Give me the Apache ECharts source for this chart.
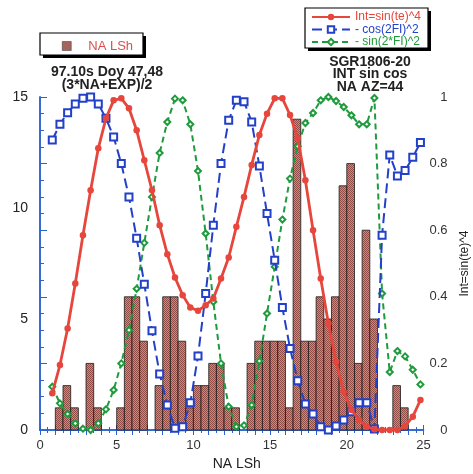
<!DOCTYPE html>
<html>
<head>
<meta charset="utf-8">
<script src="https://cdn.jsdelivr.net/npm/echarts@6/dist/echarts.min.js"></script>
<style>
html,body{margin:0;padding:0;background:#fff;}
#c{width:473px;height:474px;}
</style>
</head>
<body>
<div id="c"></div>
<script>
// ---------- data ----------
// histogram bins (start of each 0.5 h bin) and counts
const binStart = [1.0,1.5,2.0,2.5,3.0,3.5,4.0,4.5,5.0,5.5,6.0,6.5,7.0,7.5,8.0,8.5,9.0,9.5,10.0,10.5,11.0,11.5,12.0,12.5,13.0,13.5,14.0,14.5,15.0,15.5,16.0,16.5,17.0,17.5,18.0,18.5,19.0,19.5,20.0,20.5,21.0,21.5,22.0,22.5,23.0,23.5];
const counts   = [1,  2,  1,  0,  3,  1,  0,  0,  1,  6,  6,  4,  0,  2,  6,  6,  4,  1,  2,  2,  3,  3,  1,  1,  0,  3,  4,  4,  4,  4,  1,  14, 4,  4,  6,  5,  6,  11, 12, 3,  9,  5,  0,  0,  2,  1];
const binWidth = 0.5;

// sampled curves (right axis)
const sampleX = [0.8,1.3,1.8,2.3,2.8,3.3,3.8,4.3,4.8,5.3,5.8,6.3,6.8,7.3,7.8,8.3,8.8,9.3,9.8,10.3,10.8,11.3,11.8,12.3,12.8,13.3,13.8,14.3,14.8,15.3,15.8,16.3,16.8,17.3,17.8,18.3,18.8,19.3,19.8,20.3,20.8,21.3,21.8,22.3,22.8,23.3,23.8,24.3,24.8];
const intSin4 = [0.11,0.195,0.305,0.44,0.585,0.72,0.846,0.936,0.99,0.996,0.966,0.90,0.81,0.72,0.615,0.528,0.458,0.405,0.368,0.358,0.375,0.395,0.455,0.518,0.61,0.70,0.796,0.886,0.95,0.996,0.996,0.946,0.876,0.75,0.60,0.455,0.32,0.205,0.115,0.06,0.03,0.01,0.002,0.0,0.0,0.0,0.012,0.04,0.09];
const cos2FI  = [0.871,0.918,0.953,0.979,0.996,1.0,0.979,0.936,0.88,0.80,0.70,0.576,0.438,0.298,0.168,0.075,0.005,0.01,0.082,0.222,0.41,0.615,0.80,0.93,0.99,0.986,0.925,0.793,0.65,0.51,0.368,0.245,0.148,0.078,0.048,0.01,0.0,0.012,0.03,0.055,0.082,0.082,0.003,0.585,0.826,0.763,0.779,0.819,0.863];
const sin2FI  = [0.13,0.08,0.048,0.02,0.004,0.0,0.02,0.062,0.12,0.2,0.30,0.424,0.562,0.70,0.832,0.925,0.995,0.99,0.918,0.778,0.59,0.385,0.20,0.07,0.01,0.014,0.075,0.207,0.35,0.49,0.632,0.755,0.852,0.922,0.952,0.99,1.0,0.988,0.97,0.945,0.918,0.918,0.997,0.41,0.174,0.237,0.221,0.181,0.137];

const xTickLabels = [0,5,10,15,20,25];
const leftTickLabels = [0,5,10,15];
const rightTickLabels = [0,0.2,0.4,0.6,0.8,1];

// ---------- styling ----------
const AX = '#2a62cf';
const FONT = 'Liberation Sans, Arial, Helvetica, sans-serif';
const RED = '#e6463c', BLUE = '#2340c8', GREEN = '#1f9a3c';

const pc = document.createElement('canvas');
pc.width = 2; pc.height = 2;
const g = pc.getContext('2d');
g.fillStyle = '#c48e84'; g.fillRect(0,0,2,2);
g.fillStyle = '#904c44'; g.fillRect(0,0,1,1); g.fillRect(1,1,1,1);
const barPattern = {image: pc, repeat: 'repeat'};

const barData = [];
binStart.forEach((s,i)=>{ if (counts[i] > 0) barData.push([s, s+binWidth, counts[i]]); });

const chart = echarts.init(document.getElementById('c'), null, {renderer:'canvas'});

function boxWithShadow(x,y,w,h){
  return [
    {type:'rect', shape:{x:x+3,y:y+3,width:w,height:h}, style:{fill:'#000'}, z:1},
    {type:'rect', shape:{x:x,y:y,width:w,height:h}, style:{fill:'#fff', stroke:'#000', lineWidth:1.2}, z:2}
  ];
}

const option = {
  animation: false,
  backgroundColor: '#fff',
  textStyle: {fontFamily: FONT},
  grid: {left: 40, right: 49.5, top: 97, bottom: 44, containLabel: false, outerBoundsMode: 'none'},
  xAxis: [
    {type:'value', min:0, max:25, interval:1, position:'bottom',
     name:'NA LSh', nameLocation:'middle', nameGap:15,
     nameTextStyle:{fontSize:14, color:'#222', fontFamily:FONT, padding:[0,0,0,10]},
     axisLine:{show:true, lineStyle:{color:AX, width:1.5}},
     axisTick:{show:true, inside:true, length:5, lineStyle:{color:AX}},
     minorTick:{show:true, splitNumber:2, length:3, lineStyle:{color:AX}},
     axisLabel:{margin:9, fontSize:13, color:'#333', fontFamily:FONT,
       formatter: v => xTickLabels.indexOf(v) >= 0 ? String(v) : ''},
     splitLine:{show:false}},
    {type:'value', min:0, max:25, interval:1, position:'top',
     axisLine:{show:true, lineStyle:{color:AX, width:1.5}},
     axisTick:{show:true, inside:true, length:5, lineStyle:{color:AX}},
     minorTick:{show:true, splitNumber:2, length:3, lineStyle:{color:AX}},
     axisLabel:{show:false}, splitLine:{show:false}}
  ],
  yAxis: [
    {type:'value', min:0, max:15, interval:5, position:'left',
     name:'Count / 0.5 h', nameLocation:'middle', nameGap:18, nameRotate:90,
     nameTextStyle:{fontSize:12, color:'#222', fontFamily:FONT},
     axisLine:{show:true, lineStyle:{color:AX, width:1.5}},
     axisTick:{show:false},
     axisLabel:{margin:12, fontSize:14, color:'#222', fontFamily:FONT,
       formatter: v => leftTickLabels.indexOf(v) >= 0 ? String(v) : ''},
     splitLine:{show:false}},
    {type:'value', min:0, max:1, interval:0.2, position:'right',
     name:'Int=sin(te)^4', nameLocation:'middle', nameGap:27, nameRotate:90,
     nameTextStyle:{fontSize:12, color:'#222', fontFamily:FONT},
     axisLine:{show:true, lineStyle:{color:AX, width:1.5}},
     axisTick:{show:true, inside:false, length:7, lineStyle:{color:AX}},
     minorTick:{show:true, splitNumber:4, length:4, lineStyle:{color:AX}},
     axisLabel:{margin:24, align:'right', fontSize:13, color:'#333', fontFamily:FONT,
       formatter: v => { const r = rightTickLabels.find(t => Math.abs(t - v) < 1e-6); return r === undefined ? '' : String(r); }},
     splitLine:{show:false}},
    {type:'value', min:0, max:1, interval:0.2, position:'left',
     axisLine:{show:false},
     axisTick:{show:true, inside:true, length:7, lineStyle:{color:AX}},
     minorTick:{show:true, splitNumber:4, length:4, lineStyle:{color:AX}},
     axisLabel:{show:false}, splitLine:{show:false}}
  ],
  legend: [
    {data:[{name:'NA LSh', icon:'rect', itemStyle:{color:'#a5655d', borderColor:'#333', borderWidth:0.5}}],
     left: 62, top: 39.5, padding: 0, itemWidth: 9, itemHeight: 9, selectedMode:false,
     textStyle:{color:'#d9504c', fontSize:13, fontFamily:FONT, padding:[0,0,0,12]}},
    {data:[
       {name:'Int=sin(te)^4', textStyle:{color:RED}},
       {name:'- cos(2FI)^2', textStyle:{color:BLUE}},
       {name:'- sin(2*FI)^2', textStyle:{color:GREEN}}],
     orient:'vertical', left: 311, top: 11, padding: 0, itemWidth: 38, itemHeight: 8, itemGap: 0.5,
     selectedMode:false,
     textStyle:{fontSize:12, lineHeight:12, fontFamily:FONT, padding:[0,0,0,0]}}
  ],
  graphic: [
    ...boxWithShadow(40, 33, 103, 22),
    ...boxWithShadow(305, 8, 123, 40),
    {type:'text', x:107, y:65.5, z:5, style:{text:'97.10s Doy 47,48\n(3*NA+EXP)/2', textAlign:'center', textVerticalAlign:'top', font:'bold 14px ' + FONT, fill:'#222', lineHeight:13}},
    {type:'text', x:370, y:55.5, z:5, style:{text:'SGR1806-20\nINT sin cos\nNA AZ=44', textAlign:'center', textVerticalAlign:'top', font:'bold 14px ' + FONT, fill:'#222', lineHeight:12.7}}
  ],
  series: [
    {name:'NA LSh', type:'custom', xAxisIndex:0, yAxisIndex:0, z:1,
     data: barData,
     encode:{x:[0,1], y:2},
     renderItem: function(params, api){
       const x0 = api.value(0), x1 = api.value(1), v = api.value(2);
       const p0 = api.coord([x0, v]);
       const p1 = api.coord([x1, 0]);
       return {type:'rect', shape:{x:p0[0], y:p0[1], width:p1[0]-p0[0], height:p1[1]-p0[1]},
               style:{fill: barPattern, stroke:'#1a1a1a', lineWidth:0.8}};
     }},
    {name:'- sin(2*FI)^2', type:'line', xAxisIndex:0, yAxisIndex:1, z:3,
     data: sampleX.map((x,i)=>[x, sin2FI[i]]),
     symbol:'emptyDiamond', symbolSize:6,
     itemStyle:{color:GREEN, borderWidth:1},
     lineStyle:{color:GREEN, width:2, type:[6,4]}},
    {name:'- cos(2FI)^2', type:'line', xAxisIndex:0, yAxisIndex:1, z:4,
     data: sampleX.map((x,i)=>[x, cos2FI[i]]),
     symbol:'emptyRect', symbolSize:7,
     itemStyle:{color:BLUE, borderWidth:1},
     lineStyle:{color:BLUE, width:2, type:[10,5]}},
    {name:'Int=sin(te)^4', type:'line', xAxisIndex:0, yAxisIndex:1, z:5,
     data: sampleX.map((x,i)=>[x, intSin4[i]]),
     symbol:'circle', symbolSize:6.5,
     itemStyle:{color:RED},
     lineStyle:{color:RED, width:2.8}}
  ]
};
chart.setOption(option);
</script>
</body>
</html>
